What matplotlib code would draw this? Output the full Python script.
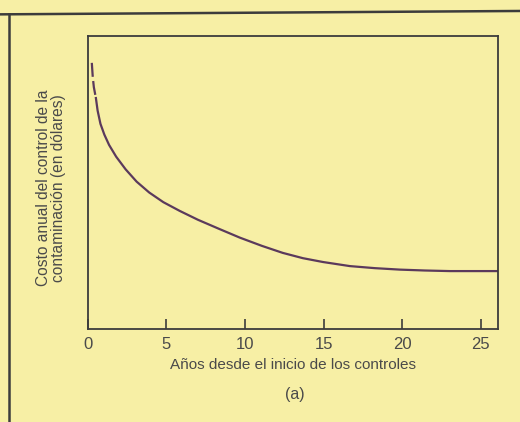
import matplotlib
matplotlib.use("Agg")
import matplotlib.pyplot as plt
from matplotlib.lines import Line2D

# curve (x = years, y = cost, relative units 0..100)
dash_x = [0.25, 0.31, 0.38, 0.45, 0.51]
dash_y = [90.8, 86.0, 82.5, 80.5, 78.8]
years = [0.51, 0.62, 0.80, 1.05, 1.35, 1.80, 2.40, 3.10, 3.90, 4.80, 5.85, 7.0, 8.3,
         9.67, 11.07, 12.4, 13.68, 14.95, 16.67, 18.26, 19.85, 21.44, 23.03, 24.6, 26.1]
cost = [78.8, 74.5, 70.0, 66.3, 62.8, 58.8, 54.5, 50.3, 46.6, 43.3, 40.3, 37.3, 34.3,
        31.2, 28.4, 26.0, 24.2, 22.9, 21.5, 20.8, 20.3, 20.0, 19.8, 19.8, 19.8]
xticks = [0, 5, 10, 15, 20, 25]

bg = "#f7efa5"
ink = "#3c3c3c"
curve_col = "#5b3a5c"

plt.rcParams['font.family'] = ['Liberation Sans', 'DejaVu Sans']

fig = plt.figure(figsize=(5.2, 4.22), dpi=100, facecolor=bg)
ax = fig.add_axes([0.169, 0.220, 0.789, 0.695])
ax.set_facecolor(bg)

ax.plot(dash_x, dash_y, color=curve_col, lw=1.6, ls=(0, (6.3, 1.9)))
ax.plot(years, cost, color=curve_col, lw=1.6, solid_joinstyle='round')

ax.set_xlim(0, 26.1)
ax.set_ylim(0, 100)
ax.set_xticks(xticks)
ax.set_yticks([])
ax.tick_params(axis='x', direction='in', length=7, width=1.2, color=ink,
               labelsize=12, labelcolor="#4a4a4a", pad=6)
for s in ax.spines.values():
    s.set_color(ink)
    s.set_linewidth(1.3)

ax.set_xlabel("Años desde el inicio de los controles", fontsize=11,
              color="#4a4a4a", labelpad=4)
fig.text(0.098, 0.555, "Costo anual del control de la\ncontaminación (en dólares)",
         rotation=90, ha='center', va='center', fontsize=11.2,
         color="#4a4a4a", linespacing=1.0)
fig.text(0.567, 0.064, "(a)", ha='center', va='center', fontsize=11.5, color="#4a4a4a")

# outer frame of the printed panel
fig.add_artist(Line2D([0.0, 1.0], [0.966, 0.974], color=ink, lw=1.8, transform=fig.transFigure))
fig.add_artist(Line2D([0.018, 0.018], [0.0, 0.966], color=ink, lw=1.8, transform=fig.transFigure))

plt.savefig("out.png", dpi=100, facecolor=bg)
